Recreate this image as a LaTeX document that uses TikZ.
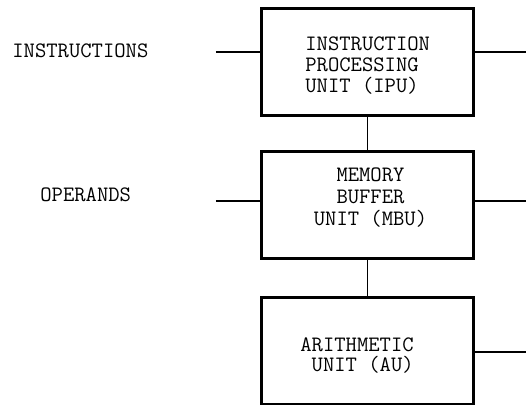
\documentclass[tikz,border=0pt]{standalone}
\usepackage{fontspec}
\usepackage{tikz}
\usetikzlibrary{positioning}

\newcommand\unitfont[1]{\ttfamily\fontsize{11}{#1}\selectfont\lineskiplimit=-20pt\relax}

\begin{document}
\begin{tikzpicture}[
  x=0.5pt,y=-0.5pt,
  unitbox/.style={draw,line width=1.5pt,minimum width=106pt,minimum height=53.5pt,inner sep=0pt},
  boxtext/.style={inner sep=0pt,font=\unitfont{10.5}},
  sidetext/.style={inner sep=0pt,anchor=base west,font=\unitfont{13}},
  wire/.style={line width=1pt},
  link/.style={line width=0.75pt}
]
\useasboundingbox (0,0) rectangle (527,405);
% units
\node[unitbox] (ipu) at (367.5,62) {};
\node[unitbox,below=16.5pt of ipu] (mbu) {};
\node[unitbox,below=18pt of mbu] (au) {};
\node[boxtext,align=left,anchor=north west] (ipuText) at (305,36) {INSTRUCTION\\PROCESSING\\UNIT (IPU)};
\node[boxtext,align=center,anchor=north,font=\unitfont{11}] (mbuText) at (370.5,167) {MEMORY\\BUFFER\\UNIT (MBU)};
\node[boxtext,align=left,anchor=north west,font=\unitfont{10}] (auText) at (300,337) {ARITHMETIC\\~UNIT (AU)};
% side labels
\node[sidetext] (instr) at (12,58) {INSTRUCTIONS};
\node[sidetext] (oper) at (40,202) {OPERANDS};
% free ends
\coordinate (inA) at (216,52);
\coordinate (inB) at (216,201);
\coordinate (outA) at (526,52);
\coordinate (outB) at (526,201);
\coordinate (outC) at (526,352);
\draw[wire] (inA) -- (inA -| ipu.west);
\draw[wire] (ipu.east |- outA) -- (outA);
\draw[wire] (inB) -- (inB -| mbu.west);
\draw[wire] (mbu.east |- outB) -- (outB);
\draw[wire] (au.east |- outC) -- (outC);
\draw[link] (ipu) -- (mbu);
\draw[link] (mbu) -- (au);
\end{tikzpicture}
\end{document}
